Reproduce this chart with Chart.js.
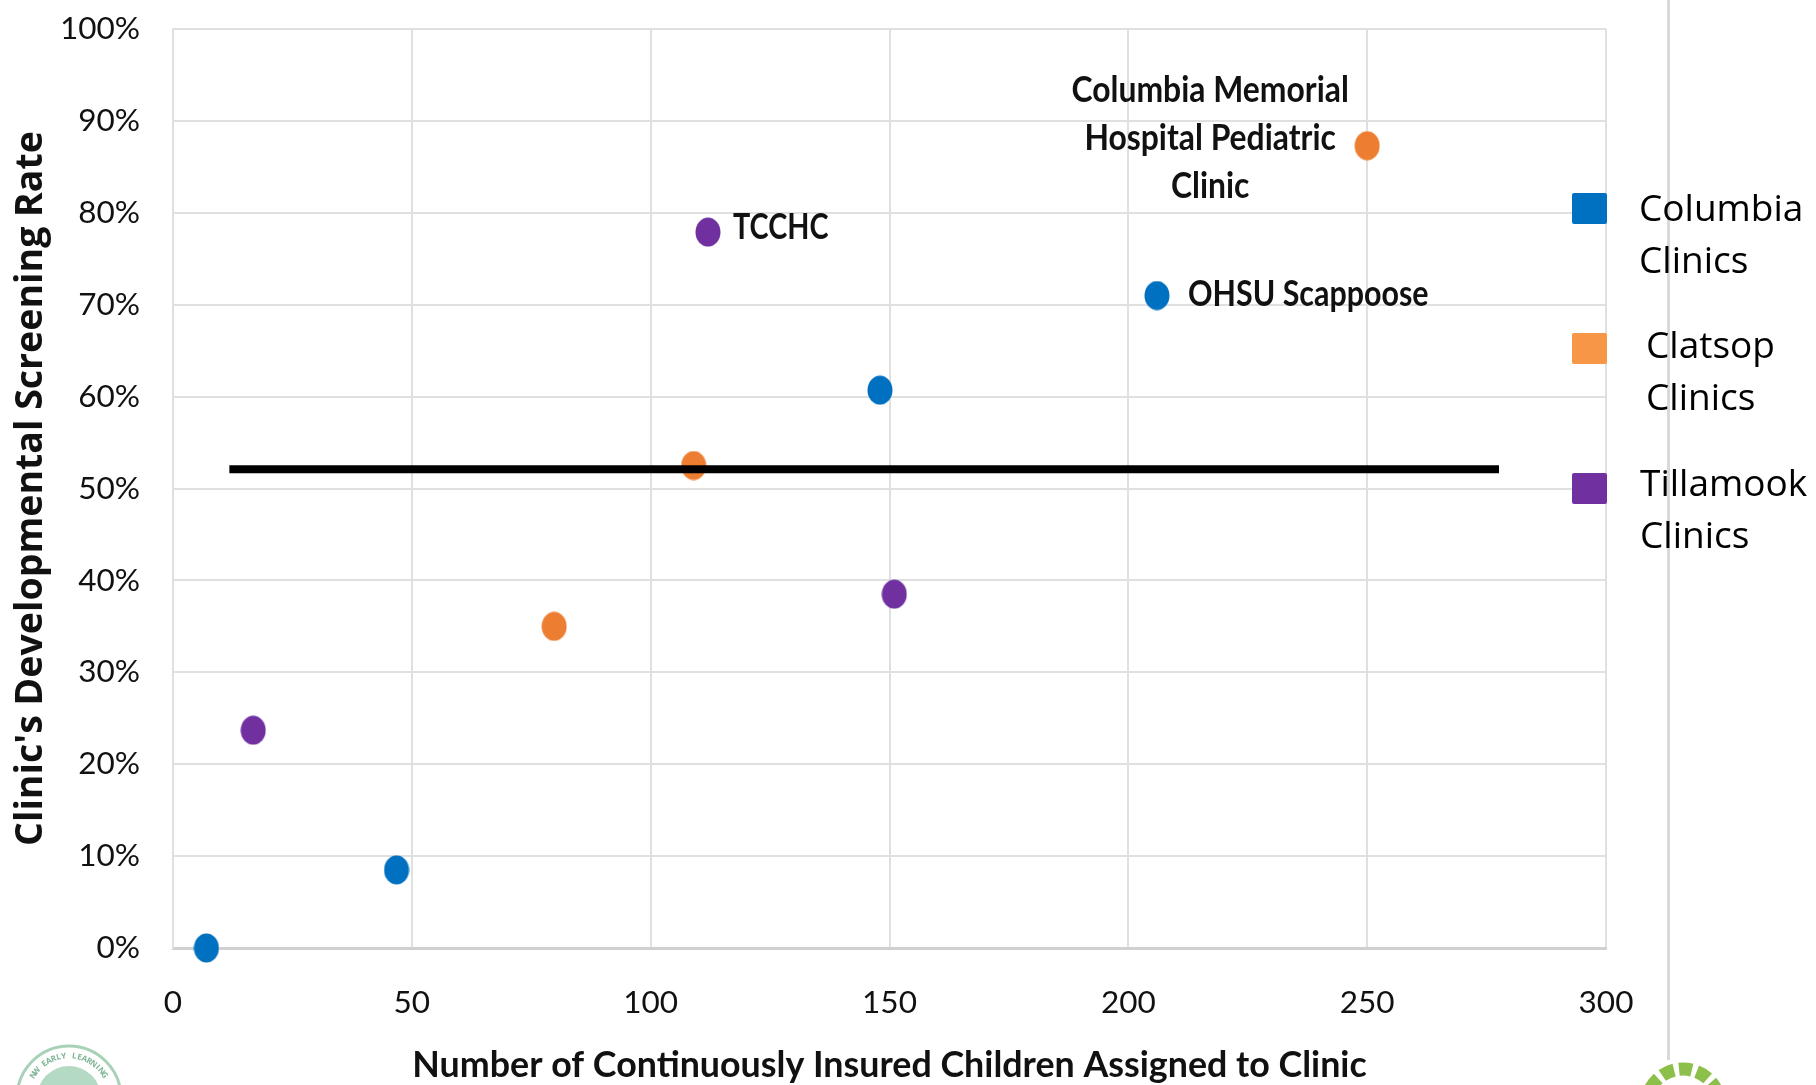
<!DOCTYPE html>
<html><head><meta charset="utf-8">
<style>html,body{margin:0;padding:0;background:#fff;overflow:hidden}canvas{display:block}</style>
<script src="https://cdn.jsdelivr.net/npm/chart.js@4"></script></head>
<body><canvas id="c" width="1816" height="1085"></canvas>
<script>
const columbiaX=[7,46.8,148,206], columbiaY=[0,8.5,60.7,71];
const clatsopX=[79.8,109,250], clatsopY=[35,52.5,87.3];
const tillamookX=[16.8,112,151], tillamookY=[23.7,77.9,38.5];
const benchmarkX=[11.8,277.6], benchmarkY=[52.1,52.1];
const xTicks=[0,50,100,150,200,250,300];
const yTicks=[0,10,20,30,40,50,60,70,80,90,100];
const xTitle='Number of Continuously Insured Children Assigned to Clinic';
const yTitle="Clinic's Developmental Screening Rate";
const pts=(xs,ys)=>xs.map((x,i)=>({x,y:ys[i]}));
function ellipse(color){const c=document.createElement('canvas');c.width=26;c.height=30;const g=c.getContext('2d');g.fillStyle=color;g.beginPath();g.ellipse(13,15,12.5,14.5,0,0,Math.PI*2);g.fill();return c;}
function squeezed(g,t,x,y,sx){g.save();g.translate(x,y);g.scale(sx,1);g.fillText(t,0,0);g.restore();}
const annotate={id:'annotate',
 beforeDraw(ch){const g=ch.ctx;g.save();g.fillStyle='#d9d9d9';g.fillRect(1667,0,3,1060);g.restore();},
 afterDraw(ch){const g=ch.ctx,sx=ch.scales.x,sy=ch.scales.y;g.save();g.textBaseline='middle';g.fillStyle='#111';
  g.font='bold 36px Lato';g.textAlign='center';
  const cx=sx.getPixelForValue(250)-157, cy=sy.getPixelForValue(87.3);
  ['Columbia Memorial','Hospital Pediatric','Clinic'].forEach((t,i)=>squeezed(g,t,cx,cy-55+i*48,0.885));
  g.textAlign='left';
  squeezed(g,'TCCHC',sx.getPixelForValue(112)+25,sy.getPixelForValue(77.9)-5,0.8);
  squeezed(g,'OHSU Scappoose',sx.getPixelForValue(206)+31,sy.getPixelForValue(71)-1,0.845);
  const leg=[['#0070c0',1572,193,'Columbia',1639,210,262],['#f79646',1572,333,'Clatsop',1646,347,399],['#7030a0',1572,473,'Tillamook',1640,485,537]];
  g.font='37px "Open Sans"';
  leg.forEach(l=>{g.fillStyle=l[0];g.beginPath();g.roundRect(l[1],l[2],35,31,2);g.fill();g.fillStyle='#000';g.fillText(l[3],l[4],l[5]);g.fillText('Clinics',l[4],l[6]);});
  // left logo
  g.strokeStyle='#a8d2b8';g.lineWidth=3;g.beginPath();g.arc(69,1098,52,0,Math.PI*2);g.stroke();
  g.fillStyle='#b5dac3';g.beginPath();g.arc(69,1098,32,0,Math.PI*2);g.fill();
  g.fillStyle='#7fb596';g.font='bold 8px "Open Sans"';g.textAlign='center';
  const txt='NW EARLY LEARNING';[...txt].forEach((c,i)=>{const a=(i-(txt.length-1)/2)*0.125;g.save();g.translate(69,1098);g.rotate(a);g.fillText(c,0,-42);g.restore();});
  // right logo
  g.strokeStyle='#8dc04a';g.lineWidth=13;g.setLineDash([13,5]);g.beginPath();g.arc(1683,1106,37,Math.PI,Math.PI*2);g.stroke();g.setLineDash([]);
  g.restore();}};
new Chart(document.getElementById('c'),{type:'scatter',
 data:{datasets:[
  {label:'Benchmark',type:'line',data:pts(benchmarkX,benchmarkY),borderColor:'#000',borderWidth:8,pointRadius:0,order:0},
  {label:'Columbia Clinics',data:pts(columbiaX,columbiaY),pointStyle:ellipse('#0070c0'),order:1},
  {label:'Clatsop Clinics',data:pts(clatsopX,clatsopY),pointStyle:ellipse('#ed7d31'),order:1},
  {label:'Tillamook Clinics',data:pts(tillamookX,tillamookY),pointStyle:ellipse('#7030a0'),order:1}]},
 plugins:[annotate],
 options:{responsive:false,animation:false,clip:false,
  layout:{padding:{top:29,right:210,left:0,bottom:0}},
  plugins:{legend:{display:false},tooltip:{enabled:false}},
  scales:{
   x:{type:'linear',min:0,max:300,afterFit(s){s.height=137;},
    afterBuildTicks(s){s.ticks=xTicks.map(v=>({value:v}));},
    grid:{color:'#e0e0e0',lineWidth:2,drawTicks:false},border:{color:'#d0d0d0',width:3},
    ticks:{color:'#111',font:{family:'Lato',size:31.5},padding:36,maxRotation:0},
    title:{display:true,text:xTitle,color:'#111',font:{family:'Lato',size:35.8,weight:'bold',lineHeight:1.1},padding:{top:0,bottom:0}}},
   y:{type:'linear',min:0,max:100,afterFit(s){s.width=173;s.paddingTop=0;s.paddingBottom=0;},
    afterBuildTicks(s){s.ticks=yTicks.map(v=>({value:v}));},
    grid:{color:'#e0e0e0',lineWidth:2,drawTicks:false},border:{color:'#e0e0e0',width:2},
    ticks:{color:'#111',font:{family:'Lato',size:31.5},padding:33,callback:v=>v+'%'},
    title:{display:true,text:yTitle,color:'#111',font:{family:'Open Sans',size:37.5,weight:'bold'},padding:{top:9,bottom:0}}}
  }}});
</script></body></html>
